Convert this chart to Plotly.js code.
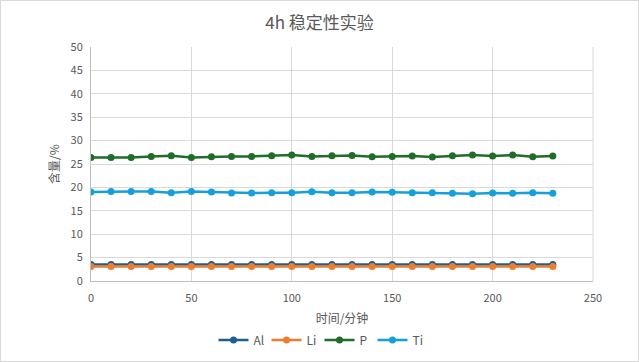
<!DOCTYPE html>
<html>
<head>
<meta charset="utf-8">
<script src="https://cdn.plot.ly/plotly-3.0.1.min.js"></script>
<style>
html,body{margin:0;padding:0;background:#fff;}
#chart{width:639px;height:362px;box-sizing:border-box;border:1px solid #d9d9d9;}
</style>
</head>
<body>
<div id="chart"></div>
<script>
const timeMin = [0,10,20,30,40,50,60,70,80,90,100,110,120,130,140,150,160,170,180,190,200,210,220,230];
const Al = [3.5,3.5,3.5,3.5,3.5,3.5,3.5,3.5,3.5,3.5,3.5,3.5,3.5,3.5,3.5,3.5,3.5,3.5,3.5,3.5,3.5,3.5,3.5,3.5];
const Li = [3.1,3.1,3.1,3.1,3.1,3.1,3.1,3.1,3.1,3.1,3.1,3.1,3.1,3.1,3.1,3.1,3.1,3.1,3.1,3.1,3.1,3.1,3.1,3.1];
const P  = [26.4,26.4,26.4,26.62,26.76,26.4,26.55,26.62,26.62,26.76,26.9,26.62,26.76,26.83,26.55,26.62,26.69,26.47,26.76,26.9,26.69,26.9,26.55,26.69];
const Ti = [19.01,19.15,19.15,19.15,18.87,19.15,19.01,18.8,18.8,18.87,18.87,19.08,18.87,18.87,19.01,18.94,18.87,18.87,18.73,18.66,18.8,18.73,18.87,18.73];
const seriesNames = ['Al','Li','P','Ti'];
const seriesColors = ['#1F5F8B','#ED7D31','#1E6E28','#16A0DB'];
const seriesData = [Al, Li, P, Ti];

const font = "'Noto Sans CJK SC', 'Noto Sans', sans-serif";
const traces = seriesData.map((d,i)=>({
  x: timeMin, y: d, name: seriesNames[i], type:'scatter', mode:'lines+markers',
  line:{color:seriesColors[i], width:2.5},
  marker:{color:seriesColors[i], size:7}
}));

const layout = {
  width:637, height:360,
  margin:{l:90,r:45,t:46,b:80},
  paper_bgcolor:'#fff', plot_bgcolor:'#fff',
  font:{family:font, color:'#595959', size:11},
  title:{text:'4h 稳定性实验', font:{family:font, size:17, color:'#595959'}, x:0.5, xanchor:'center', y:0.94, yanchor:'middle', yref:'container'},
  xaxis:{range:[0,250], dtick:50, tick0:0, showgrid:true, gridcolor:'#d9d9d9', gridwidth:1,
    showline:true, linecolor:'#bfbfbf', linewidth:1, zeroline:false, ticks:'',
    tickfont:{size:11, color:'#595959'}, ticklabelstandoff:7,
    title:{text:'时间/分钟', font:{size:12, color:'#595959'}, standoff:11}, mirror:false},
  yaxis:{range:[0,50], dtick:5, showgrid:true, gridcolor:'#d9d9d9', gridwidth:1,
    showline:true, linecolor:'#bfbfbf', linewidth:1, zeroline:false, ticks:'',
    tickfont:{size:11, color:'#595959'}, ticklabelstandoff:5,
    title:{text:'含量/%', font:{size:12, color:'#595959'}, standoff:8}},
  showlegend:true,
  legend:{orientation:'h', x:0.5, xanchor:'center', xref:'container', y:0.058, yanchor:'middle', yref:'container',
    font:{size:12, color:'#595959'}, entrywidth:8, entrywidthmode:'pixels', itemwidth:30, tracegroupgap:0},
  shapes:[{type:'line', xref:'paper', yref:'paper', x0:1, x1:1, y0:0, y1:1, line:{color:'#d9d9d9', width:1}}]
};
Plotly.newPlot('chart', traces, layout, {displayModeBar:false, staticPlot:true});
</script>
</body>
</html>
